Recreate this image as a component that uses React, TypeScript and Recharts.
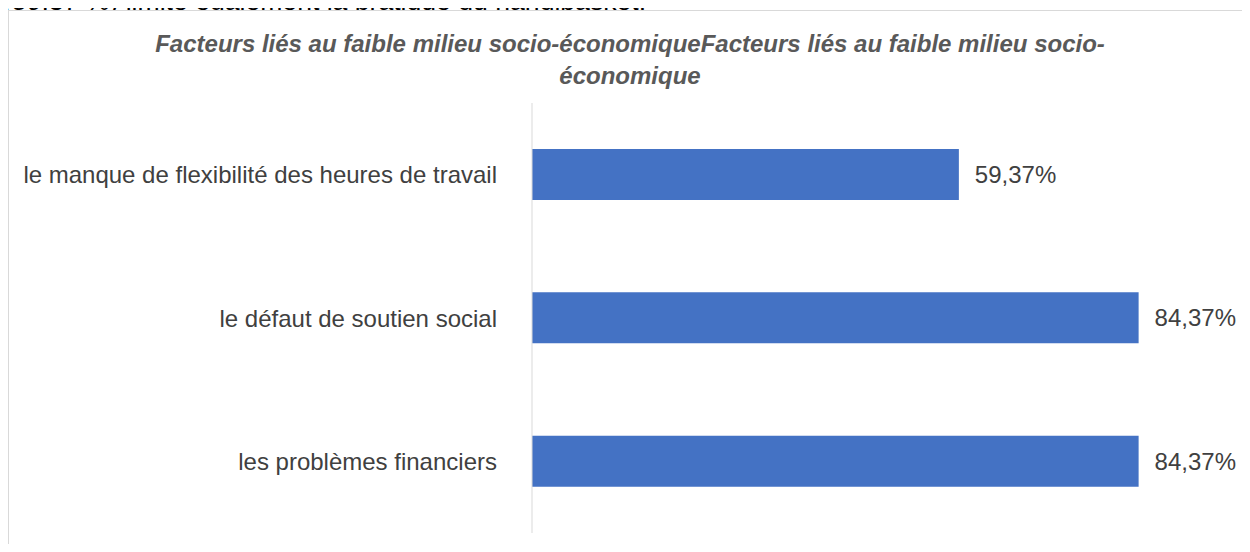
import React from 'react';
import { BarChart, Bar, XAxis, YAxis, LabelList } from 'recharts';

const categories = [
  'le manque de flexibilité des heures de travail',
  'le défaut de soutien social',
  'les problèmes financiers',
];
const values = [59.37, 84.37, 84.37];
const titleLines = [
  'Facteurs liés au faible milieu socio-économiqueFacteurs liés au faible milieu socio-',
  'économique',
];
const aboveText = '(59,37 %) limite également la pratique du handibasket.';

const data = categories.map((name, i) => ({ name, value: values[i] }));

const FONT = '"Liberation Sans", Arial, sans-serif';
const fmt = (v: any) => Number(v).toFixed(2).replace('.', ',') + '%';

export default function App() {
  return (
    <div
      style={{
        position: 'relative',
        width: 1250,
        height: 552,
        margin: -8,
        overflow: 'hidden',
        background: '#fff',
        fontFamily: FONT,
      }}
    >
      {/* bout de texte du document, coupé en haut */}
      <div
        style={{
          position: 'absolute',
          left: 3,
          top: -13,
          fontSize: 26.6,
          lineHeight: '28px',
          color: '#000',
          whiteSpace: 'nowrap',
        }}
      >
        {aboveText}
      </div>

      {/* cadre du graphique */}
      <div
        style={{
          position: 'absolute',
          left: 8,
          top: 10,
          right: -10,
          bottom: -10,
          borderLeft: '1px solid #d9d9d9',
          borderTop: '1px solid #d9d9d9',
          background: '#fff',
        }}
      />

      {titleLines.map((t, i) => (
        <div
          key={i}
          style={{
            position: 'absolute',
            left: 10,
            width: 1240,
            top: 28 + i * 32,
            fontSize: 24,
            lineHeight: '32px',
            textAlign: 'center',
            fontWeight: 'bold',
            fontStyle: 'italic',
            color: '#595959',
            whiteSpace: 'nowrap',
          }}
        >
          {t}
        </div>
      ))}

      <div style={{ position: 'absolute', left: 0, top: 0 }}>
        <BarChart
          width={1252}
          height={552}
          data={data}
          layout="vertical"
          margin={{ top: 103, right: 1, bottom: 19, left: 0 }}
        >
          <XAxis type="number" domain={[0, 100]} hide />
          <YAxis
            type="category"
            dataKey="name"
            width={532}
            tickSize={0}
            tickMargin={35}
            tickLine={false}
            axisLine={{ stroke: '#d9d9d9', strokeWidth: 1 }}
            tick={{ fill: '#404040', fontSize: 24, fontFamily: FONT }}
          />
          <Bar dataKey="value" fill="#4472c4" barSize={51} isAnimationActive={false}>
            <LabelList
              dataKey="value"
              position="right"
              offset={16}
              formatter={fmt}
              fill="#404040"
              fontSize={24}
              fontFamily={FONT}
            />
          </Bar>
        </BarChart>
      </div>
    </div>
  );
}
